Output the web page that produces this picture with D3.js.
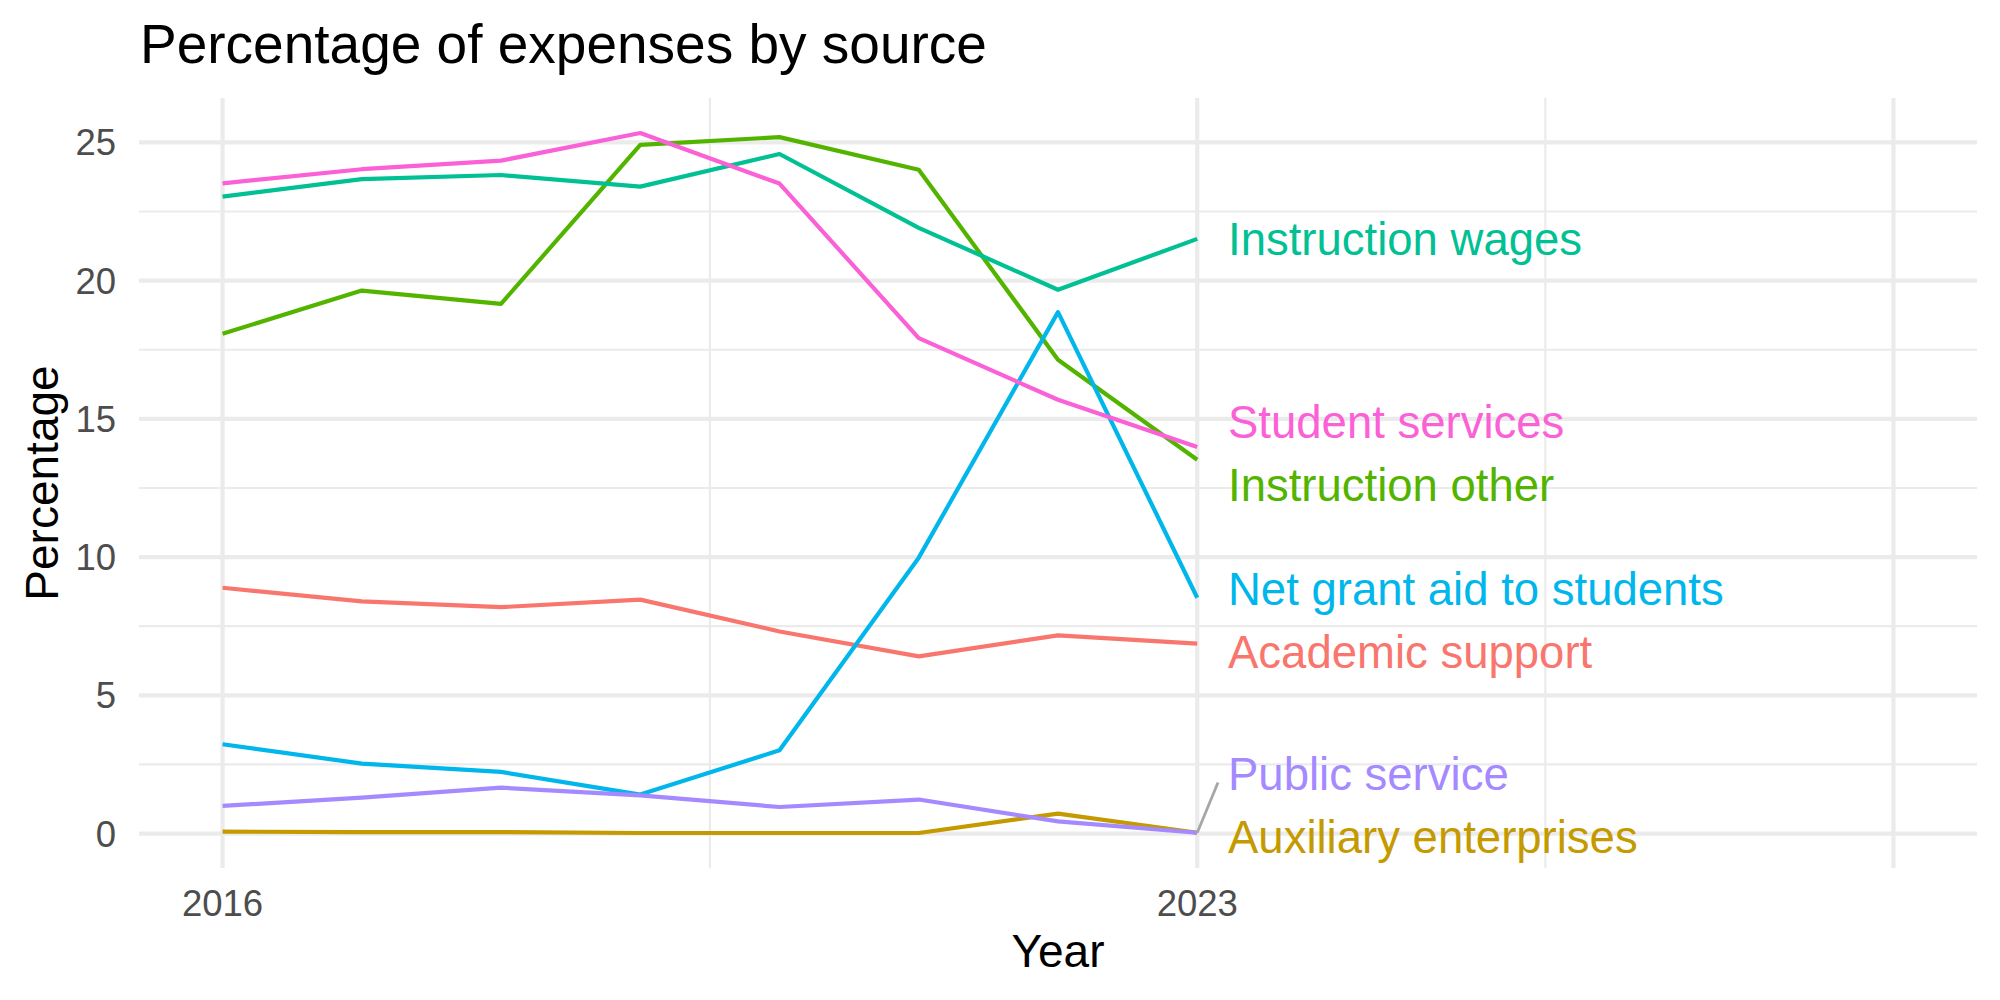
<!DOCTYPE html>
<html>
<head>
<meta charset="utf-8">
<script src="https://cdn.jsdelivr.net/npm/d3@7"></script>
<style>
  body { margin: 0; background: #fff; }
  svg text { font-family: "Liberation Sans", Arial, sans-serif; }
</style>
</head>
<body>
<svg id="chart" width="2000" height="1000"></svg>
<script>
// data
var years = [2016, 2017, 2018, 2019, 2020, 2021, 2022, 2023]

var academicSupport = [8.89, 8.40, 8.19, 8.46, 7.31, 6.41, 7.17, 6.87]
var auxiliaryEnterprises = [0.07, 0.05, 0.05, 0.02, 0.02, 0.02, 0.72, 0.03]
var instructionOther = [18.08, 19.64, 19.16, 24.91, 25.19, 24.01, 17.14, 13.52]
var instructionWages = [23.04, 23.67, 23.82, 23.40, 24.58, 21.91, 19.67, 21.51]
var netGrantAid = [3.23, 2.53, 2.23, 1.41, 3.01, 9.98, 18.86, 8.53]
var publicService = [1.00, 1.30, 1.66, 1.38, 0.96, 1.23, 0.44, 0.03]
var studentServices = [23.52, 24.03, 24.34, 25.34, 23.51, 17.92, 15.69, 13.98]

var seriesNames = ["Academic support", "Auxiliary enterprises", "Instruction other",
  "Instruction wages", "Net grant aid to students", "Public service", "Student services"]
var seriesValues = [academicSupport, auxiliaryEnterprises, instructionOther,
  instructionWages, netGrantAid, publicService, studentServices]
var seriesColors = ["#F8766D", "#C49A00", "#53B400", "#00C094", "#00B6EB", "#A58AFF", "#FB61D7"]

var xLimits = [2016, 2028]
var xMajor = [2016, 2023, 2028]
var xMinor = [2019.5, 2025.5]
var xLabels = [2016, 2023]
var yMajor = [0, 5, 10, 15, 20, 25]
var yMinor = [2.5, 7.5, 12.5, 17.5, 22.5]

var panel = { left: 139, right: 1977, top: 98, bottom: 868 }

var svg = d3.select("#chart")

// ggplot style 5% expansion
function expand(lo, hi) {
  var d = (hi - lo) * 0.05
  return [lo - d, hi + d]
}

var allVals = d3.merge(seriesValues)
var x = d3.scaleLinear().domain(expand(xLimits[0], xLimits[1])).range([panel.left, panel.right])
var y = d3.scaleLinear().domain(expand(d3.min(allVals), d3.max(allVals))).range([panel.bottom, panel.top])

var grid = svg.append("g")

// minor grid
grid.selectAll(".ymin").data(yMinor).enter().append("line")
  .attr("x1", panel.left).attr("x2", panel.right)
  .attr("y1", d => y(d)).attr("y2", d => y(d))
  .attr("stroke", "#EBEBEB").attr("stroke-width", 2.2)
grid.selectAll(".xmin").data(xMinor).enter().append("line")
  .attr("y1", panel.top).attr("y2", panel.bottom)
  .attr("x1", d => x(d)).attr("x2", d => x(d))
  .attr("stroke", "#EBEBEB").attr("stroke-width", 2.2)

// major grid
grid.selectAll(".ymaj").data(yMajor).enter().append("line")
  .attr("x1", panel.left).attr("x2", panel.right)
  .attr("y1", d => y(d)).attr("y2", d => y(d))
  .attr("stroke", "#EBEBEB").attr("stroke-width", 4.2)
grid.selectAll(".xmaj").data(xMajor).enter().append("line")
  .attr("y1", panel.top).attr("y2", panel.bottom)
  .attr("x1", d => x(d)).attr("x2", d => x(d))
  .attr("stroke", "#EBEBEB").attr("stroke-width", 4.2)

// axis labels
svg.selectAll(".ytick").data(yMajor).enter().append("text")
  .attr("x", 116).attr("y", d => y(d) + 13)
  .attr("text-anchor", "end")
  .attr("font-size", 36.5).attr("fill", "#4D4D4D")
  .text(d => d)

svg.selectAll(".xtick").data(xLabels).enter().append("text")
  .attr("x", d => x(d)).attr("y", 916)
  .attr("text-anchor", "middle")
  .attr("font-size", 36.5).attr("fill", "#4D4D4D")
  .text(d => d)

svg.append("text")
  .attr("x", (panel.left + panel.right) / 2).attr("y", 967)
  .attr("text-anchor", "middle").attr("font-size", 46).attr("fill", "#000")
  .text("Year")

svg.append("text")
  .attr("transform", "translate(58," + ((panel.top + panel.bottom) / 2) + ") rotate(-90)")
  .attr("text-anchor", "middle").attr("font-size", 46).attr("fill", "#000")
  .text("Percentage")

svg.append("text")
  .attr("x", 140).attr("y", 63)
  .attr("font-size", 55).attr("fill", "#000")
  .text("Percentage of expenses by source")

// lines
var line = d3.line()
  .x((d, i) => x(years[i]))
  .y(d => y(d))

svg.append("g").selectAll("path").data(seriesValues).enter().append("path")
  .attr("d", d => line(d))
  .attr("fill", "none")
  .attr("stroke", (d, i) => seriesColors[i])
  .attr("stroke-width", 4.2)
  .attr("stroke-linejoin", "round")

// end labels, pushed apart a bit like ggrepel does
var lastX = x(years[years.length - 1])
var labels = seriesNames.map(function (name, i) {
  var v = seriesValues[i][seriesValues[i].length - 1]
  return { name: name, color: seriesColors[i], py: y(v), c: y(v), order: i }
})
labels.sort(function (a, b) {
  if (Math.abs(a.py - b.py) < 0.5) return b.order - a.order
  return a.py - b.py
})

var gap = 63.5, cTop = panel.top + 30, cBottom = panel.bottom - 31
for (var it = 0; it < 200; it++) {
  for (var k = 1; k < labels.length; k++) {
    var over = gap - (labels[k].c - labels[k - 1].c)
    if (over > 0) {
      labels[k].c += over / 2
      labels[k - 1].c -= over / 2
    }
  }
  labels.forEach(function (l) { l.c = Math.max(cTop, Math.min(cBottom, l.c)) })
}

var textX = 1228, boxLeft = 1218
labels.forEach(function (l) {
  var ey = Math.max(l.c - 9, Math.min(l.c + 9, l.py))
  var len = Math.hypot(boxLeft - lastX, ey - l.py)
  if (len > 30) {
    svg.append("line")
      .attr("x1", lastX).attr("y1", l.py)
      .attr("x2", boxLeft).attr("y2", ey)
      .attr("stroke", "#A6A6A6").attr("stroke-width", 2.8)
  }
  svg.append("text")
    .attr("x", textX).attr("y", l.c + 16)
    .attr("font-size", 45.5).attr("fill", l.color)
    .text(l.name)
})
</script>
</body>
</html>
